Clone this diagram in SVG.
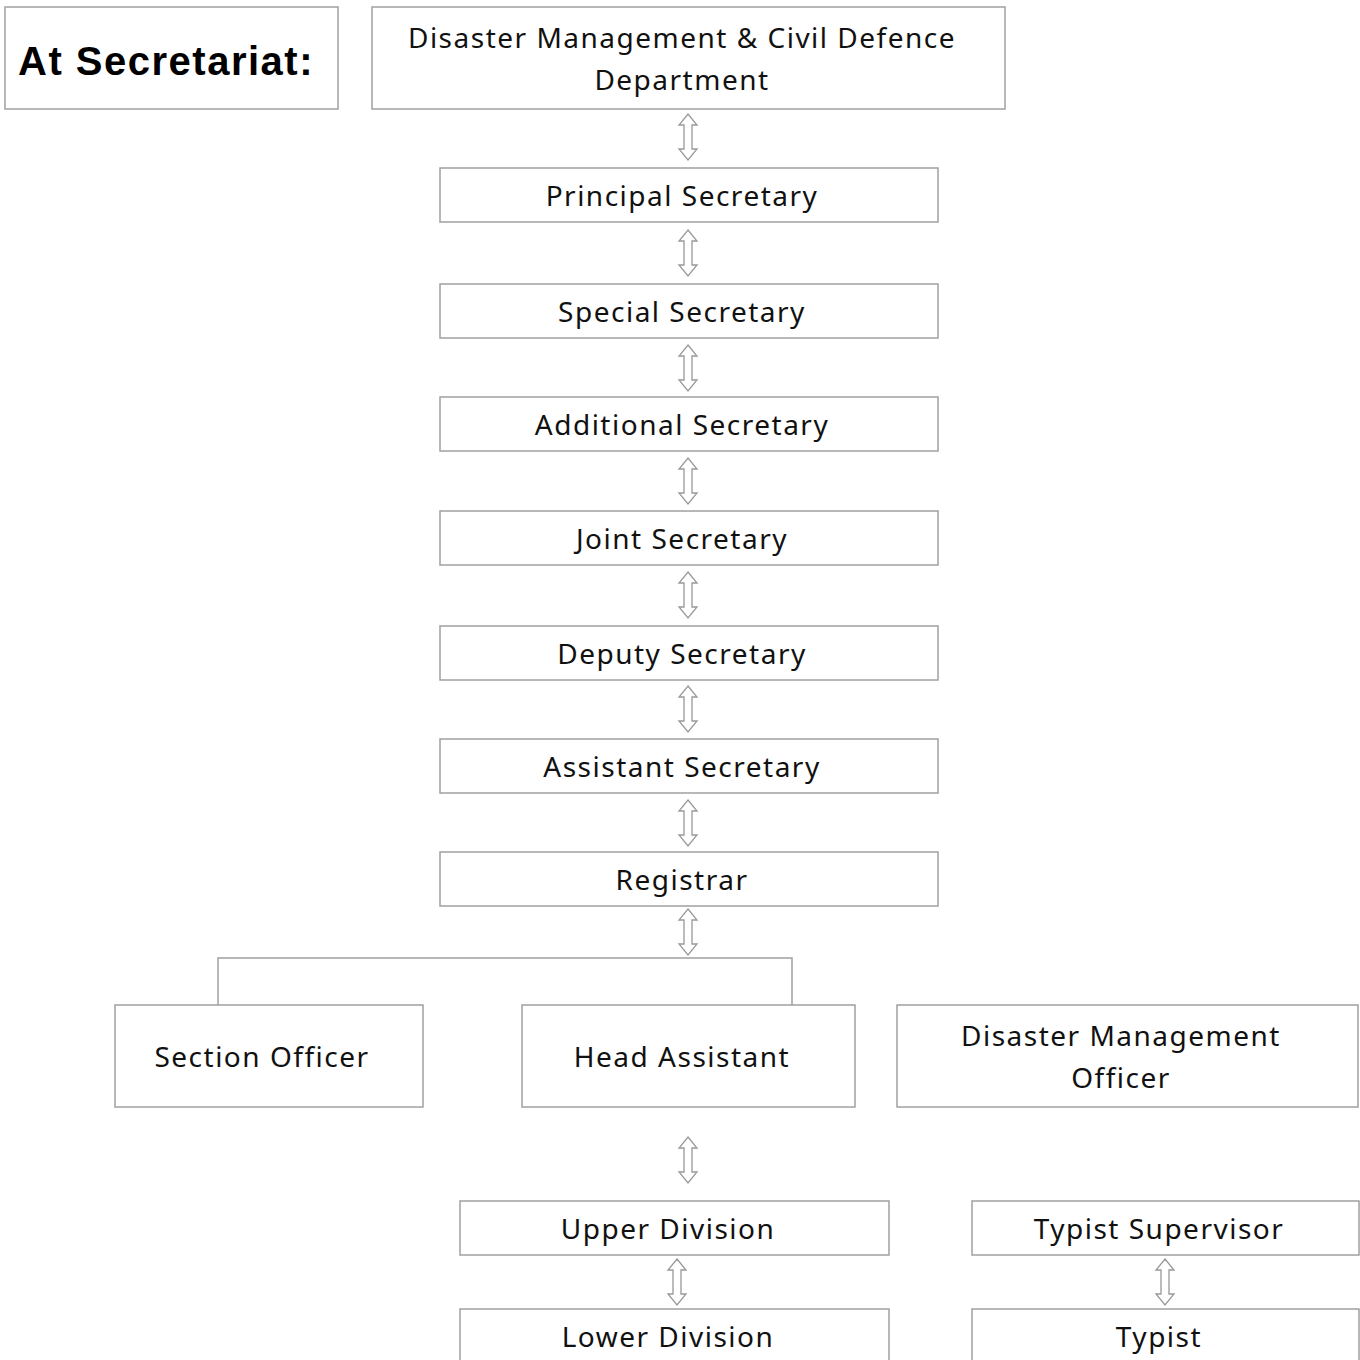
<svg xmlns="http://www.w3.org/2000/svg" width="1360" height="1360" viewBox="0 0 1360 1360">
<style>
.box{fill:#fff;stroke:#a0a0a0;stroke-width:1.5}
.t{font-family:"Noto Sans","Liberation Sans",sans-serif;font-size:28px;fill:#111;text-anchor:middle;letter-spacing:1.5px}
.h{font-family:"Liberation Sans",sans-serif;font-size:40px;font-weight:bold;fill:#000;text-anchor:middle;letter-spacing:1.5px}
.arr{fill:#fff;stroke:#999;stroke-width:1.3;stroke-linejoin:miter}
.ln{fill:none;stroke:#a0a0a0;stroke-width:1.5}
</style>
<defs>
<polygon id="dbl" points="0,0 9,11 4,11 4,35 9,35 0,46 -9,35 -4,35 -4,11 -9,11" class="arr"/>
</defs>
<g id="connectors">
<use href="#dbl" x="688" y="114"/>
<use href="#dbl" x="688" y="230"/>
<use href="#dbl" x="688" y="345"/>
<use href="#dbl" x="688" y="458"/>
<use href="#dbl" x="688" y="572"/>
<use href="#dbl" x="688" y="686"/>
<use href="#dbl" x="688" y="800"/>
<use href="#dbl" x="688" y="909"/>
<polyline class="ln" points="218,1005 218,958 792,958 792,1005"/>
<use href="#dbl" x="688" y="1137"/>
<use href="#dbl" x="677" y="1259"/>
<use href="#dbl" x="1165" y="1259"/>
</g>
<g id="at-secretariat"><rect class="box" x="5" y="7" width="333" height="102"/><text class="h" x="166" y="75">At Secretariat:</text></g>
<g id="dept"><rect class="box" x="372" y="7" width="633" height="102"/><text class="t" x="682" y="48">Disaster Management &amp; Civil Defence</text><text class="t" x="682" y="90">Department</text></g>
<g id="principal"><rect class="box" x="440" y="168" width="498" height="54"/><text class="t" x="682" y="206">Principal Secretary</text></g>
<g id="special"><rect class="box" x="440" y="284" width="498" height="54"/><text class="t" x="682" y="322">Special Secretary</text></g>
<g id="additional"><rect class="box" x="440" y="397" width="498" height="54"/><text class="t" x="682" y="435">Additional Secretary</text></g>
<g id="joint"><rect class="box" x="440" y="511" width="498" height="54"/><text class="t" x="682" y="549">Joint Secretary</text></g>
<g id="deputy"><rect class="box" x="440" y="626" width="498" height="54"/><text class="t" x="682" y="664">Deputy Secretary</text></g>
<g id="assistant"><rect class="box" x="440" y="739" width="498" height="54"/><text class="t" x="682" y="777">Assistant Secretary</text></g>
<g id="registrar"><rect class="box" x="440" y="852" width="498" height="54"/><text class="t" x="682" y="890">Registrar</text></g>
<g id="section-officer"><rect class="box" x="115" y="1005" width="308" height="102"/><text class="t" x="262" y="1067">Section Officer</text></g>
<g id="head-assistant"><rect class="box" x="522" y="1005" width="333" height="102"/><text class="t" x="682" y="1067">Head Assistant</text></g>
<g id="dmo"><rect class="box" x="897" y="1005" width="461" height="102"/><text class="t" x="1121" y="1046">Disaster Management</text><text class="t" x="1121" y="1088">Officer</text></g>
<g id="upper-division"><rect class="box" x="460" y="1201" width="429" height="54"/><text class="t" x="668" y="1239">Upper Division</text></g>
<g id="lower-division"><rect class="box" x="460" y="1309" width="429" height="60"/><text class="t" x="668" y="1347">Lower Division</text></g>
<g id="typist-supervisor"><rect class="box" x="972" y="1201" width="387" height="54"/><text class="t" x="1159" y="1239">Typist Supervisor</text></g>
<g id="typist"><rect class="box" x="972" y="1309" width="387" height="60"/><text class="t" x="1159" y="1347">Typist</text></g>
</svg>
